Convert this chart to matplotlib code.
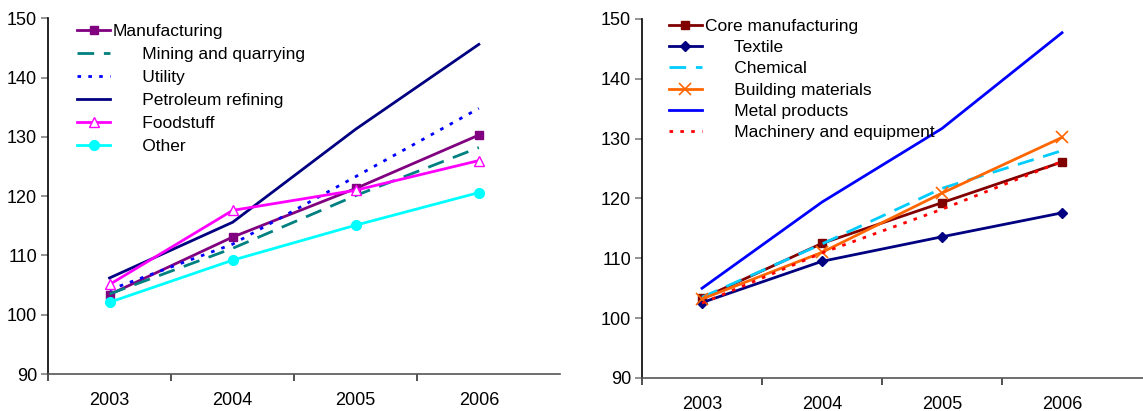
import matplotlib.pyplot as plt

plt.rcParams['font.family'] = ['Liberation Sans', 'DejaVu Sans']

years = ['2003', '2004', '2005', '2006']

# industry indices, left panel
manufacturing = [103.4, 113.1, 121.3, 130.3]
mining = [103.5, 111.2, 120.1, 128.2]
utility = [104.2, 111.9, 123.3, 134.8]
petroleum = [106.2, 115.6, 131.3, 145.6]
foodstuff = [105.1, 117.6, 121.0, 126.0]
other = [102.1, 109.2, 115.1, 120.6]

# manufacturing branches, right panel
core_manuf = [103.3, 112.5, 119.3, 126.1]
textile = [102.6, 109.5, 113.6, 117.6]
chemical = [103.5, 112.4, 121.7, 128.0]
building = [103.2, 111.0, 120.9, 130.2]
metal = [105.0, 119.4, 131.7, 147.7]
machinery = [102.5, 110.9, 118.2, 126.2]

pad = '      '

left_series = [
    (manufacturing, 'Manufacturing', dict(color='#800080', marker='s', ms=6)),
    (mining, pad + 'Mining and quarrying', dict(color='#008080', ls=(0, (6, 3.5)))),
    (utility, pad + 'Utility', dict(color='#0000FF', ls=(0, (1.3, 2.6)))),
    (petroleum, pad + 'Petroleum refining', dict(color='#000080')),
    (foodstuff, pad + 'Foodstuff', dict(color='#FF00FF', marker='^', ms=7, mfc='white')),
    (other, pad + 'Other', dict(color='#00FFFF', marker='o', ms=7)),
]

right_series = [
    (core_manuf, 'Core manufacturing', dict(color='#800000', marker='s', ms=6)),
    (textile, pad + 'Textile', dict(color='#000080', marker='D', ms=5)),
    (chemical, pad + 'Chemical', dict(color='#00CCFF', ls=(0, (6, 3.5)))),
    (building, pad + 'Building materials', dict(color='#FF6600', marker='x', ms=8, mew=1.2)),
    (metal, pad + 'Metal products', dict(color='#0000FF')),
    (machinery, pad + 'Machinery and equipment', dict(color='#FF0000', ls=(0, (1.3, 2.6)))),
]

fig = plt.figure(figsize=(11.43, 4.11), dpi=100)
ax1 = fig.add_axes([0.042, 0.09, 0.448, 0.8655])
ax2 = fig.add_axes([0.5617, 0.0803, 0.4383, 0.8735])


def draw_panel(ax, series, xmax, legend_x, legend_y, spacing):
    x = range(len(years))
    for values, label, style in series:
        ax.plot(x, values, lw=2, label=label, **style)
    ax.set_ylim(90, 150)
    ax.set_xlim(-0.5, xmax)
    ax.set_yticks(range(90, 151, 10))
    ax.tick_params(axis='y', labelsize=13, length=5, width=1.2, color='#808080', pad=3)
    ax.set_xticks([-0.5, 0.5, 1.5, 2.5])
    ax.set_xticklabels([])
    ax.tick_params(axis='x', which='major', length=5, width=1.2, color='#333333')
    ax.set_xticks(list(x), minor=True)
    ax.set_xticklabels(years, minor=True)
    ax.tick_params(axis='x', which='minor', length=0, labelsize=13, pad=13)
    for side in ('top', 'right'):
        ax.spines[side].set_visible(False)
    ax.spines['left'].set_linewidth(1.2)
    ax.spines['bottom'].set_linewidth(1.2)
    ax.spines['bottom'].set_color('#555555')
    ax.legend(loc='upper left', bbox_to_anchor=(legend_x, legend_y), frameon=False,
              fontsize=12.5, handlelength=1.9, handletextpad=0.15,
              labelspacing=spacing, borderaxespad=0)


draw_panel(ax1, left_series, 3.66, 0.044, 1.005, 0.46)
draw_panel(ax2, right_series, 3.675, 0.04, 1.02, 0.35)

fig.savefig('out.png', dpi=100)
